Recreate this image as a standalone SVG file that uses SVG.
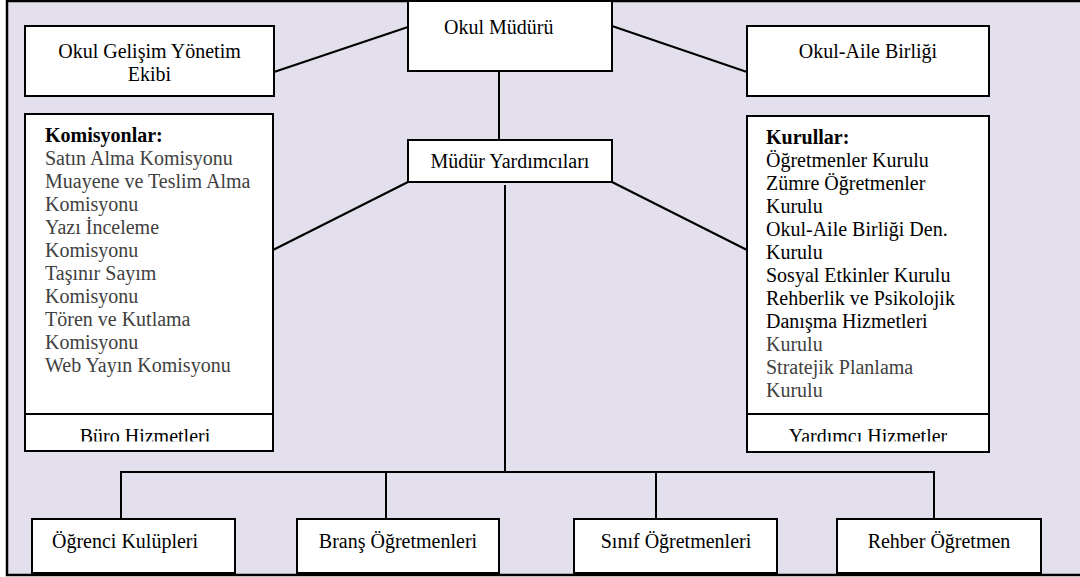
<svg xmlns="http://www.w3.org/2000/svg" width="1080" height="577" viewBox="0 0 1080 577" font-family="'Liberation Serif', 'Times New Roman', Times, 'DejaVu Serif', serif">
<style>
.box{fill:#fff;stroke:#000;stroke-width:2}
.ln{stroke:#000;stroke-width:2;fill:none}
text{font-family:'Liberation Serif','Times New Roman',Times,serif;font-size:20px;fill:#000}
.c{text-anchor:middle}
.g{fill:#404040}
.b{font-weight:bold}
</style>
<defs>
<clipPath id="clipL"><rect x="25" y="414" width="249" height="27.5"/></clipPath>
<clipPath id="clipR"><rect x="747" y="414" width="243" height="27.5"/></clipPath>
</defs>
<rect x="7" y="1" width="1080" height="574" fill="#E4DFEC" stroke="#000" stroke-width="2.5"/>
<g id="connectors">
<line class="ln" x1="408" y1="27" x2="274" y2="72"/>
<line class="ln" x1="612" y1="26" x2="747" y2="72"/>
<line class="ln" x1="499" y1="71" x2="499" y2="140"/>
<line class="ln" x1="408" y1="182" x2="273" y2="250"/>
<line class="ln" x1="612" y1="182" x2="747" y2="250"/>
<line class="ln" x1="505" y1="185" x2="505" y2="472"/>
<polyline class="ln" points="121,519 121,472 934,472 934,519"/>
<line class="ln" x1="386" y1="472" x2="386" y2="519"/>
<line class="ln" x1="656" y1="472" x2="656" y2="519"/>
</g>
<g id="okul-muduru">
<rect class="box" x="408" y="1" width="204" height="70"/>
<text x="444" y="34" font-family="Liberation Serif">Okul Müdürü</text>
</g>
<g id="okul-gelisim">
<rect class="box" x="25" y="26" width="249" height="70"/>
<text class="c" x="149.5" y="58" font-family="Liberation Serif">Okul Gelişim Yönetim</text>
<text class="c" x="149.5" y="81" font-family="Liberation Serif">Ekibi</text>
</g>
<g id="okul-aile">
<rect class="box" x="747" y="26" width="242" height="70"/>
<text class="c" x="868" y="58" font-family="Liberation Serif">Okul-Aile Birliği</text>
</g>
<g id="mudur-yardimcilari">
<rect class="box" x="408" y="140" width="204" height="42"/>
<text class="c" x="510" y="168" font-family="Liberation Serif">Müdür Yardımcıları</text>
</g>
<g id="komisyonlar" font-family="Liberation Serif">
<rect class="box" x="25" y="114" width="248" height="337"/>
<line class="ln" x1="25" y1="414" x2="273" y2="414"/>
<text x="45" y="142" class="b">Komisyonlar:</text>
<text x="45" y="165" class="g">Satın Alma Komisyonu</text>
<text x="45" y="188" class="g">Muayene ve Teslim Alma</text>
<text x="45" y="211" class="g">Komisyonu</text>
<text x="45" y="234" class="g">Yazı İnceleme</text>
<text x="45" y="257" class="g">Komisyonu</text>
<text x="45" y="280" class="g">Taşınır Sayım</text>
<text x="45" y="303" class="g">Komisyonu</text>
<text x="45" y="326" class="g">Tören ve Kutlama</text>
<text x="45" y="349" class="g">Komisyonu</text>
<text x="45" y="372" class="g">Web Yayın Komisyonu</text>
<text class="c" x="145" y="443" clip-path="url(#clipL)">Büro Hizmetleri</text>
</g>
<g id="kurullar" font-family="Liberation Serif">
<rect class="box" x="747" y="116" width="242" height="336"/>
<line class="ln" x1="747" y1="414" x2="989" y2="414"/>
<text x="766" y="144" class="b">Kurullar:</text>
<text x="766" y="167">Öğretmenler Kurulu</text>
<text x="766" y="190">Zümre Öğretmenler</text>
<text x="766" y="213">Kurulu</text>
<text x="766" y="236">Okul-Aile Birliği Den.</text>
<text x="766" y="259">Kurulu</text>
<text x="766" y="282">Sosyal Etkinler Kurulu</text>
<text x="766" y="305">Rehberlik ve Psikolojik</text>
<text x="766" y="328">Danışma Hizmetleri</text>
<text x="766" y="351" class="g">Kurulu</text>
<text x="766" y="374" class="g">Stratejik Planlama</text>
<text x="766" y="397" class="g">Kurulu</text>
<text class="c" x="868" y="443" clip-path="url(#clipR)">Yardımcı Hizmetler</text>
</g>
<g id="ogrenci-kulupleri">
<rect class="box" x="32" y="519" width="203" height="54"/>
<text x="52" y="548">Öğrenci Kulüpleri</text>
</g>
<g id="brans-ogretmenleri">
<rect class="box" x="297" y="519" width="202" height="54"/>
<text class="c" x="398" y="548">Branş Öğretmenleri</text>
</g>
<g id="sinif-ogretmenleri">
<rect class="box" x="574" y="519" width="203" height="54"/>
<text class="c" x="676" y="548">Sınıf Öğretmenleri</text>
</g>
<g id="rehber-ogretmen">
<rect class="box" x="837" y="519" width="204" height="54"/>
<text class="c" x="939" y="548">Rehber Öğretmen</text>
</g>
</svg>
